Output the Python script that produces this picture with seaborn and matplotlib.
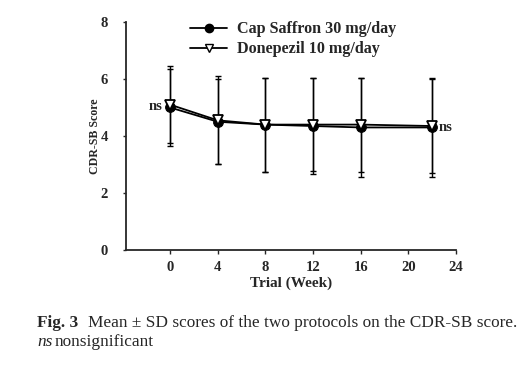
import matplotlib
matplotlib.use('Agg')
import matplotlib.pyplot as plt
import seaborn as sns
import pandas as pd
from matplotlib.lines import Line2D

# dados
weeks = [0, 4, 8, 12, 16, 22]
saffron_mean = [5.0, 4.5, 4.4, 4.35, 4.3, 4.3]
saffron_sd = [1.35, 1.5, 1.65, 1.7, 1.75, 1.75]
donepezil_mean = [5.1, 4.55, 4.4, 4.4, 4.4, 4.35]
donepezil_sd = [1.35, 1.55, 1.65, 1.62, 1.65, 1.65]
labels = ["Cap Saffron 30 mg/day", "Donepezil 10 mg/day"]
x_ticks = [0, 4, 8, 12, 16, 20, 24]
y_ticks = [0, 2, 4, 6, 8]

sns.set_style("ticks")
plt.rcParams['font.family'] = ['Liberation Serif', 'DejaVu Serif']

df = pd.DataFrame({
    "week": weeks * 2,
    "score": saffron_mean + donepezil_mean,
    "sd": saffron_sd + donepezil_sd,
    "group": [labels[0]] * len(weeks) + [labels[1]] * len(weeks),
})

fig = plt.figure(figsize=(5.2, 3.73), dpi=100)
ax = fig.add_axes([0.2423, 0.3298, 0.877 - 0.2423, 0.941 - 0.3298])

# barras de desvio padrão
for g in labels:
    sub = df[df["group"] == g]
    ax.errorbar(sub["week"], sub["score"], yerr=sub["sd"], fmt='none',
                ecolor='black', elinewidth=1.0, capsize=2.5, capthick=1.0, zorder=2)

sns.lineplot(data=df, x="week", y="score", hue="group", style="group",
             markers={labels[0]: 'o', labels[1]: 'v'}, dashes=False,
             palette={labels[0]: 'black', labels[1]: 'black'},
             linewidth=1.3, markersize=7, ax=ax, legend=False, zorder=3)

# marcador aberto para donepezil
for line in ax.get_lines():
    if line.get_marker() == 'v':
        line.set_markerfacecolor('white')
        line.set_markeredgecolor('black')
        line.set_markeredgewidth(1.3)
    elif line.get_marker() == 'o':
        line.set_markerfacecolor('black')
        line.set_markeredgecolor('black')

ax.set_xlim(-3.7, 24)
ax.set_ylim(0, 8)
ax.set_xticks(x_ticks)
ax.set_yticks(y_ticks)
ax.tick_params(axis='x', direction='out', length=3, width=1, labelsize=10.5, pad=5)
ax.tick_params(axis='y', direction='out', length=2, width=1, labelsize=10.5, pad=11)
for t in ax.get_xticklabels() + ax.get_yticklabels():
    t.set_fontweight('bold')
for s in ['top', 'right']:
    ax.spines[s].set_visible(False)
for s in ['left', 'bottom']:
    ax.spines[s].set_linewidth(1.3)

ax.set_xlabel("Trial (Week)", fontsize=11, fontweight='bold', labelpad=2)
ax.set_ylabel("CDR-SB Score", fontsize=8.6, fontweight='bold', labelpad=0)

ax.text(-0.6, saffron_mean[0] + 0.05, "ns", fontsize=10.5, fontweight='bold',
        ha='right', va='center')
ax.text(22.5, saffron_mean[-1], "ns", fontsize=10.5, fontweight='bold',
        ha='left', va='center')

handles = [
    Line2D([], [], color='black', marker='o', markersize=6, linewidth=1.3),
    Line2D([], [], color='black', marker='v', markersize=6, linewidth=1.3,
           markerfacecolor='white'),
]
leg = ax.legend(handles, labels, loc='upper left', bbox_to_anchor=(0.15, 1.066),
                frameon=False, prop={'weight': 'bold', 'size': 11.6},
                handlelength=2.3, handletextpad=0.6, labelspacing=0.25)

# legenda da figura
fig.text(37 / 520, 1 - 323 / 373, "Fig. 3", fontsize=12.4, fontweight='bold',
         va='center', ha='left')
fig.text(88 / 520, 1 - 323 / 373,
         "Mean \u00b1 SD scores of the two protocols on the CDR-SB score.",
         fontsize=12.4, va='center', ha='left')
fig.text(37 / 520, 1 - 342 / 373, "ns", fontsize=12.4, style='italic',
         va='center', ha='left')
fig.text(55 / 520, 1 - 342 / 373, "nonsignificant", fontsize=12.4,
         va='center', ha='left')

fig.savefig("out.png", dpi=100)
